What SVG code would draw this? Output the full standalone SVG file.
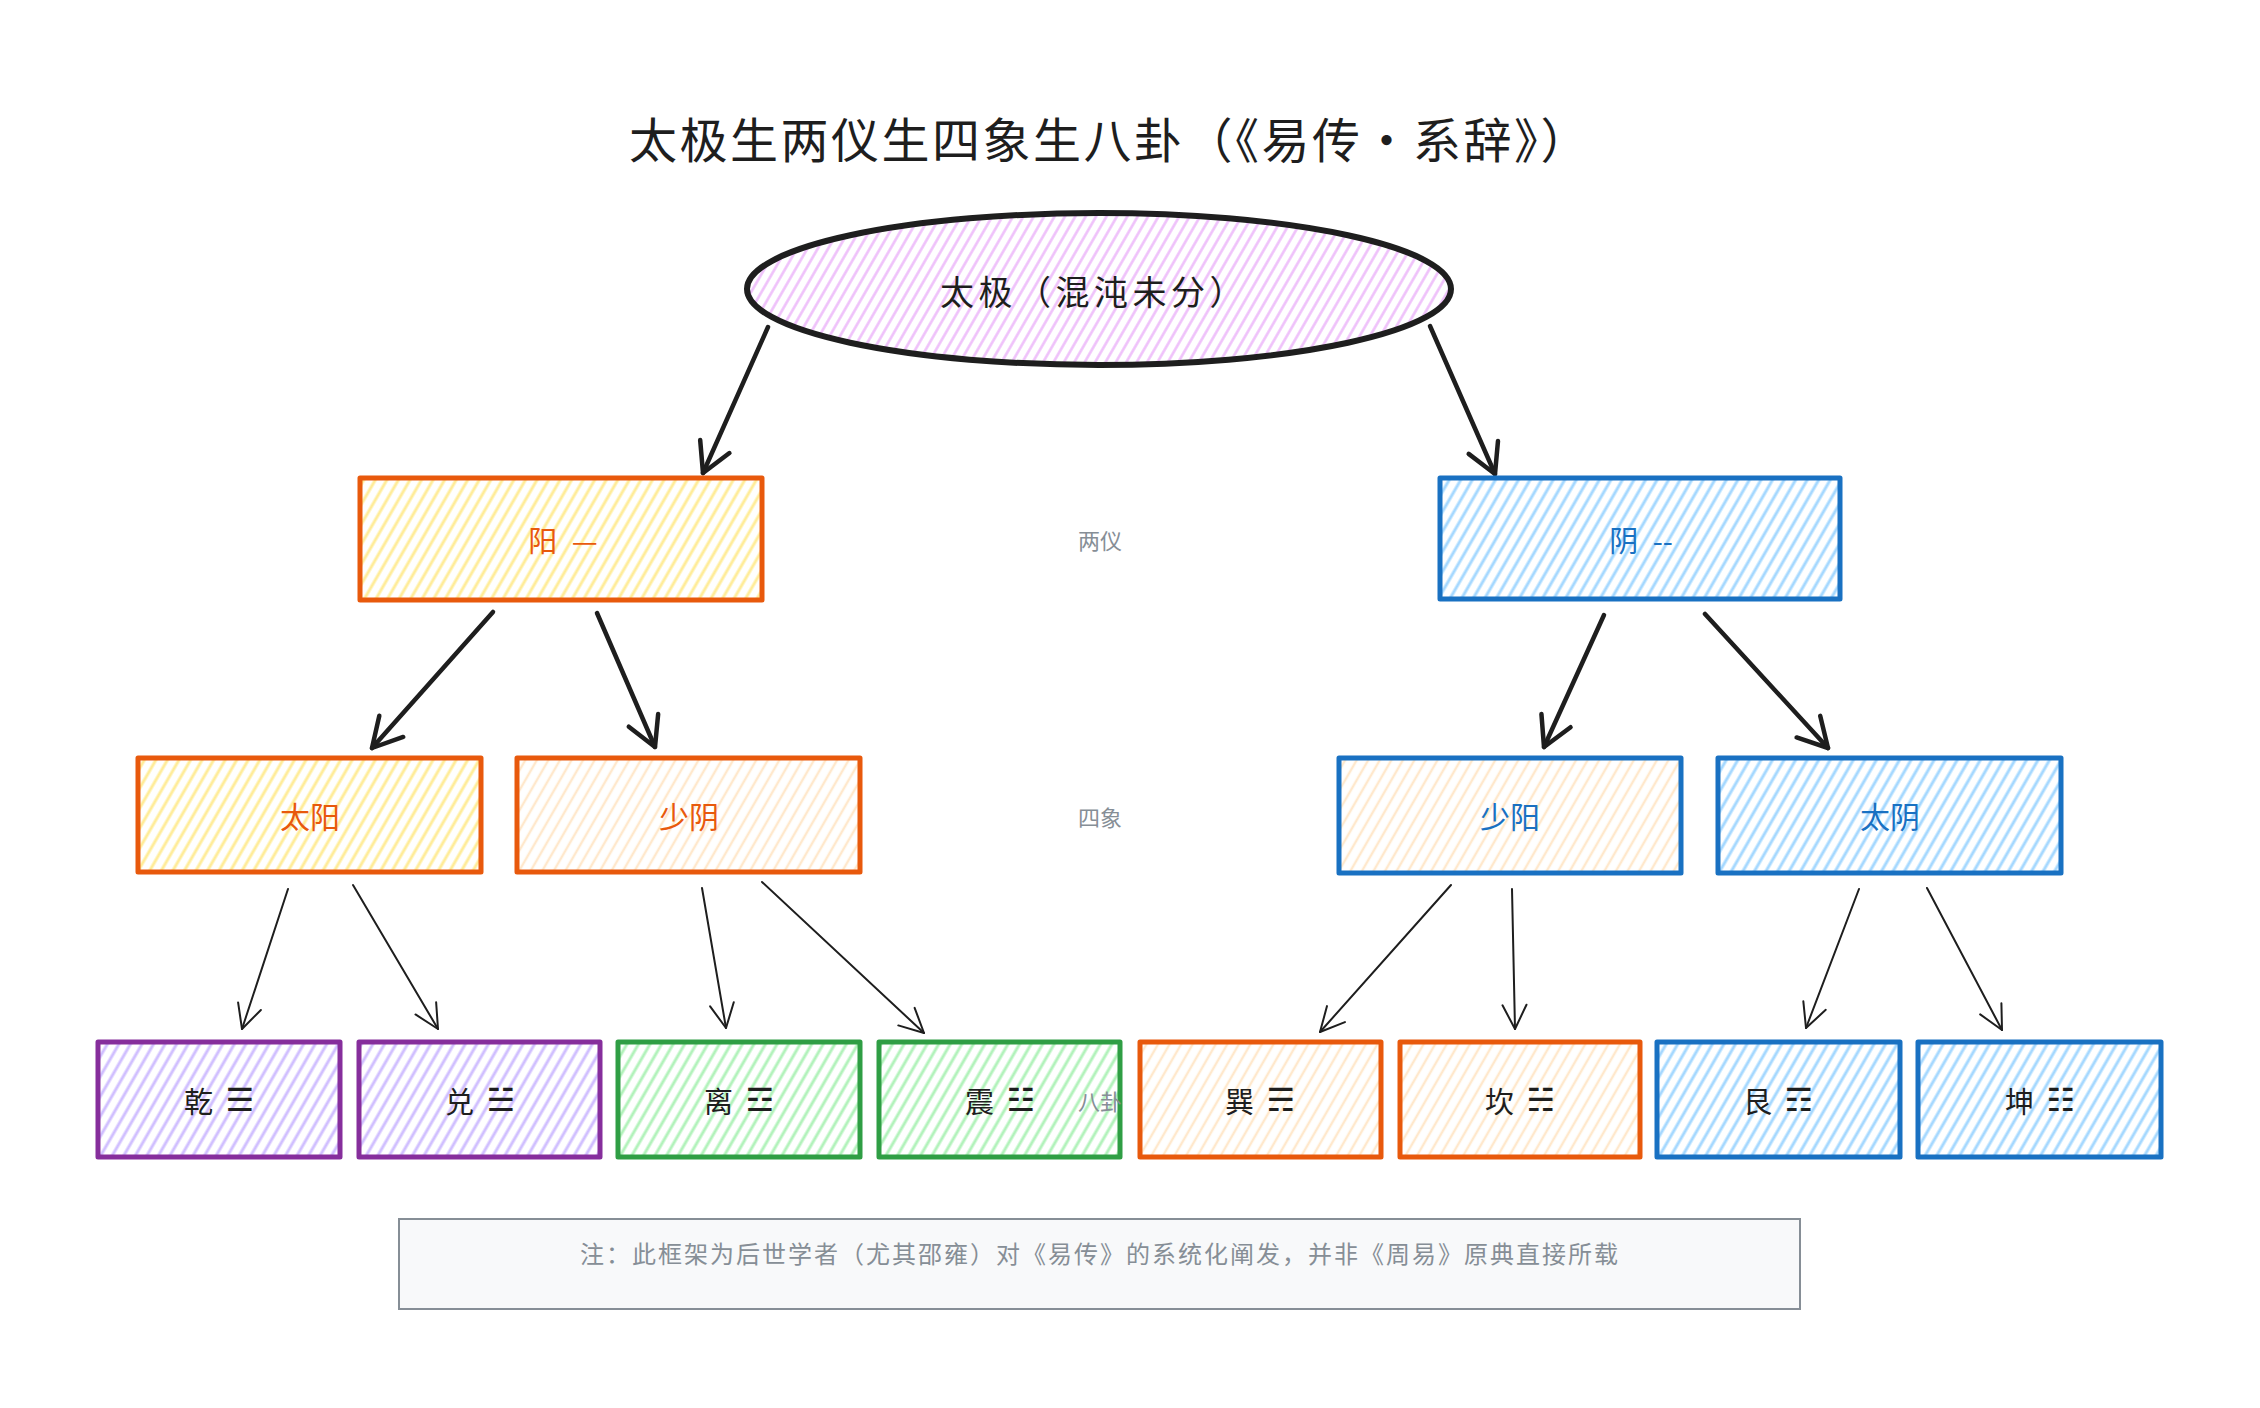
<svg xmlns="http://www.w3.org/2000/svg" width="2260" height="1408" viewBox="0 0 2260 1408">
<defs>
<style>
text { font-family: "Noto Sans CJK SC", "DejaVu Sans", sans-serif; }
.title { font-size: 48px; fill: #1e1e1e; text-anchor: middle; dominant-baseline: central; letter-spacing: 2.5px; }
.lbl { font-size: 29px; text-anchor: middle; dominant-baseline: central; }
.dark { fill: #1e1e1e; }
.or { fill: #e8590c; }
.bl { fill: #1971c2; }
.tri { font-family: "DejaVu Sans", sans-serif; font-size: 32px; }
.gray { font-size: 22px; fill: #868e96; text-anchor: middle; dominant-baseline: central; }
.note { font-size: 24px; fill: #868e96; text-anchor: middle; dominant-baseline: central; letter-spacing: 2px; }
.box { stroke-width: 5; stroke-linejoin: round; }
.sOr { stroke: #e8590c; }
.sBl { stroke: #1971c2; }
.sPu { stroke: #862e9c; }
.sGr { stroke: #2f9e44; }
.edge { fill: none; stroke: #1e1e1e; stroke-linecap: round; }
.e1 { stroke-width: 4.5; marker-end: url(#ah1); }
.e2 { stroke-width: 2; marker-end: url(#ah2); }
</style>
<pattern id="hLav" patternUnits="userSpaceOnUse" width="9" height="9" patternTransform="rotate(30)">
<line x1="4.5" y1="0" x2="4.5" y2="9" stroke="#eebefa" stroke-width="2.5"/>
</pattern>
<pattern id="hYel" patternUnits="userSpaceOnUse" width="10" height="10" patternTransform="rotate(30)">
<line x1="5" y1="0" x2="5" y2="10" stroke="#ffec99" stroke-width="3"/>
</pattern>
<pattern id="hPea" patternUnits="userSpaceOnUse" width="10" height="10" patternTransform="rotate(30)">
<line x1="5" y1="0" x2="5" y2="10" stroke="#ffe8cc" stroke-width="2.5"/>
</pattern>
<pattern id="hBlu" patternUnits="userSpaceOnUse" width="10" height="10" patternTransform="rotate(30)">
<line x1="5" y1="0" x2="5" y2="10" stroke="#a5d8ff" stroke-width="3"/>
</pattern>
<pattern id="hPur" patternUnits="userSpaceOnUse" width="10" height="10" patternTransform="rotate(30)">
<line x1="5" y1="0" x2="5" y2="10" stroke="#d0bfff" stroke-width="3"/>
</pattern>
<pattern id="hGrn" patternUnits="userSpaceOnUse" width="10" height="10" patternTransform="rotate(30)">
<line x1="5" y1="0" x2="5" y2="10" stroke="#b2f2bb" stroke-width="3"/>
</pattern>
<marker id="ah1" markerUnits="userSpaceOnUse" viewBox="-40 -20 50 40" markerWidth="50" markerHeight="40" refX="0" refY="0" orient="auto">
<path d="M-29,-16 L0,0 L-29,16" fill="none" stroke="#1e1e1e" stroke-width="4.5" stroke-linecap="round" stroke-linejoin="round"/>
</marker>
<marker id="ah2" markerUnits="userSpaceOnUse" viewBox="-40 -20 50 40" markerWidth="50" markerHeight="40" refX="0" refY="0" orient="auto">
<path d="M-24,-12 L0,0 L-24,12" fill="none" stroke="#1e1e1e" stroke-width="2" stroke-linecap="round" stroke-linejoin="round"/>
</marker>
</defs>

<rect width="2260" height="1408" fill="#ffffff"/>

<g id="title">
<text class="title" x="1110" y="137">太极生两仪生四象生八卦（《易传·系辞》）</text>
</g>

<g id="connectors">
<path class="edge e1" d="M768,327 L703,473"/>
<path class="edge e1" d="M1430,326 L1495,474"/>
<path class="edge e1" d="M493,612 L372,748"/>
<path class="edge e1" d="M597,613 L655,747"/>
<path class="edge e1" d="M1604,615 L1544,747"/>
<path class="edge e1" d="M1705,614 L1828,748"/>
<path class="edge e2" d="M288,889 L242,1029"/>
<path class="edge e2" d="M353,885 L438,1029"/>
<path class="edge e2" d="M702,888 L726,1028"/>
<path class="edge e2" d="M762,882 L924,1033"/>
<path class="edge e2" d="M1451,885 L1320,1032"/>
<path class="edge e2" d="M1512,889 L1515,1029"/>
<path class="edge e2" d="M1859,889 L1806,1028"/>
<path class="edge e2" d="M1927,888 L2002,1030"/>
</g>

<g id="taiji">
<ellipse cx="1099" cy="289" rx="352" ry="76" fill="url(#hLav)" stroke="#1e1e1e" stroke-width="6"/>
<text class="lbl dark" x="1094" y="290" style="font-size:34px;letter-spacing:4.5px">太极（混沌未分）</text>
</g>

<g id="yang">
<rect class="box sOr" x="360" y="478" width="402" height="122" fill="url(#hYel)"/>
<text class="lbl or" x="563" y="539">阳 <tspan dx="8">—</tspan></text>
</g>
<g id="yin">
<rect class="box sBl" x="1440" y="478" width="400" height="121" fill="url(#hBlu)"/>
<text class="lbl bl" x="1641" y="539">阴 <tspan dx="8">--</tspan></text>
</g>

<g id="label-liangyi"><text class="gray" x="1100" y="539">两仪</text></g>
<g id="label-sixiang"><text class="gray" x="1100" y="816">四象</text></g>

<g id="taiyang">
<rect class="box sOr" x="138" y="758" width="343" height="114" fill="url(#hYel)"/>
<text class="lbl or" x="310" y="815" style="font-size:30px">太阳</text>
</g>
<g id="shaoyin">
<rect class="box sOr" x="517" y="758" width="343" height="114" fill="url(#hPea)"/>
<text class="lbl or" x="689" y="815" style="font-size:30px">少阴</text>
</g>
<g id="shaoyang">
<rect class="box sBl" x="1339" y="758" width="342" height="115" fill="url(#hPea)"/>
<text class="lbl bl" x="1510" y="815" style="font-size:30px">少阳</text>
</g>
<g id="taiyin">
<rect class="box sBl" x="1718" y="758" width="343" height="115" fill="url(#hBlu)"/>
<text class="lbl bl" x="1890" y="815" style="font-size:30px">太阴</text>
</g>

<g id="qian">
<rect class="box sPu" x="98" y="1042" width="242" height="115" fill="url(#hPur)"/>
<text class="lbl dark" x="219" y="1100">乾 <tspan class="tri" dx="6">☰</tspan></text>
</g>
<g id="dui">
<rect class="box sPu" x="359" y="1042" width="241" height="115" fill="url(#hPur)"/>
<text class="lbl dark" x="480" y="1100">兑 <tspan class="tri" dx="6">☱</tspan></text>
</g>
<g id="li">
<rect class="box sGr" x="618" y="1042" width="242" height="115" fill="url(#hGrn)"/>
<text class="lbl dark" x="739" y="1100">离 <tspan class="tri" dx="6">☲</tspan></text>
</g>
<g id="zhen">
<rect class="box sGr" x="879" y="1042" width="241" height="115" fill="url(#hGrn)"/>
<text class="lbl dark" x="1000" y="1100">震 <tspan class="tri" dx="6">☳</tspan></text>
</g>
<g id="xun">
<rect class="box sOr" x="1140" y="1042" width="241" height="115" fill="url(#hPea)"/>
<text class="lbl dark" x="1260" y="1100">巽 <tspan class="tri" dx="6">☴</tspan></text>
</g>
<g id="kan">
<rect class="box sOr" x="1400" y="1042" width="240" height="115" fill="url(#hPea)"/>
<text class="lbl dark" x="1520" y="1100">坎 <tspan class="tri" dx="6">☵</tspan></text>
</g>
<g id="gen">
<rect class="box sBl" x="1657" y="1042" width="243" height="115" fill="url(#hBlu)"/>
<text class="lbl dark" x="1778" y="1100">艮 <tspan class="tri" dx="6">☶</tspan></text>
</g>
<g id="kun">
<rect class="box sBl" x="1918" y="1042" width="243" height="115" fill="url(#hBlu)"/>
<text class="lbl dark" x="2040" y="1100">坤 <tspan class="tri" dx="6">☷</tspan></text>
</g>

<g id="label-bagua"><text class="gray" x="1100" y="1100">八卦</text></g>

<g id="note">
<rect x="399" y="1219" width="1401" height="90" fill="#f8f9fa" stroke="#868e96" stroke-width="2"/>
<text class="note" x="1100" y="1252">注：此框架为后世学者（尤其邵雍）对《易传》的系统化阐发，并非《周易》原典直接所载</text>
</g>
</svg>
